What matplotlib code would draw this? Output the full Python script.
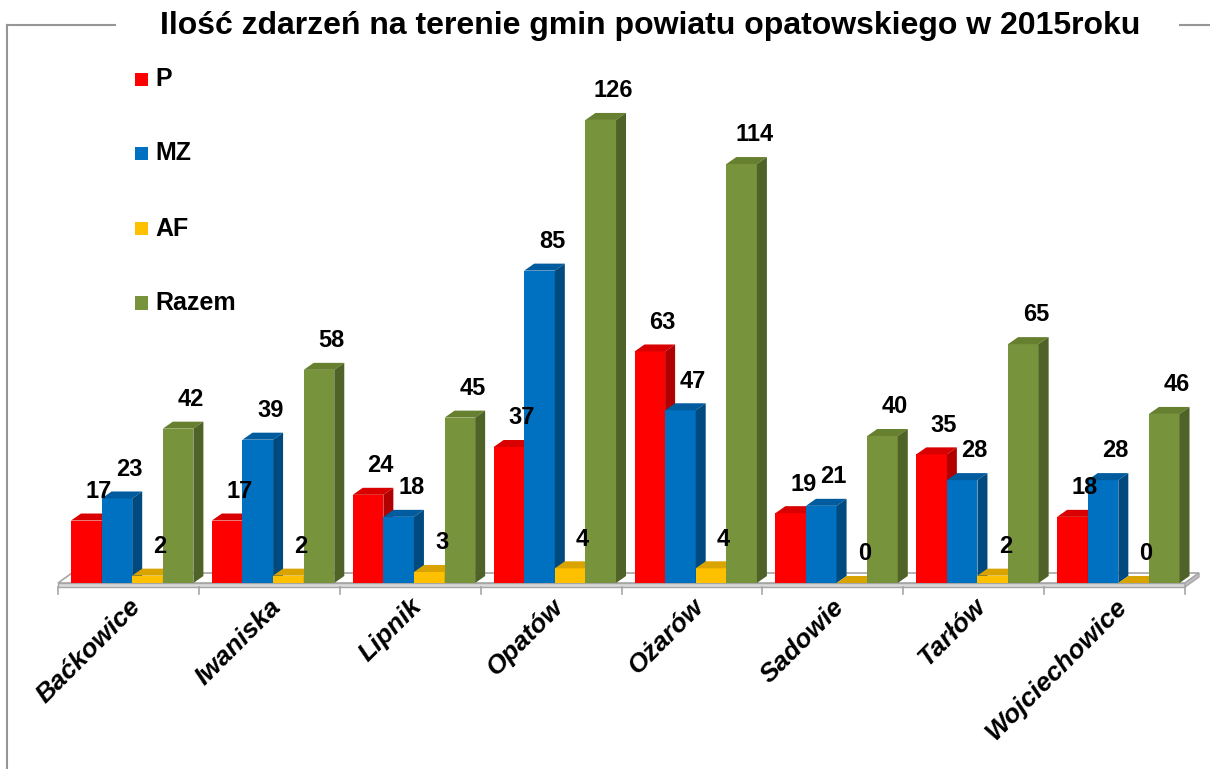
import matplotlib
matplotlib.use("Agg")
import matplotlib.pyplot as plt
from matplotlib.patches import Polygon, Rectangle
from matplotlib.lines import Line2D

# ---- data ----
title = "Ilość zdarzeń na terenie gmin powiatu opatowskiego w 2015roku"
categories = ["Baćkowice", "Iwaniska", "Lipnik", "Opatów", "Ożarów",
              "Sadowie", "Tarłów", "Wojciechowice"]
series_names = ["P", "MZ", "AF", "Razem"]
P = [17, 17, 24, 37, 63, 19, 35, 18]
MZ = [23, 39, 18, 85, 47, 21, 28, 28]
AF = [2, 2, 3, 4, 4, 0, 2, 0]
Razem = [42, 58, 45, 126, 114, 40, 65, 46]
series = [P, MZ, AF, Razem]

front_cols = ["#FF0000", "#0070C0", "#FFC000", "#77933C"]
top_cols = ["#D80000", "#005C9E", "#D9A300", "#668030"]
side_cols = ["#B00000", "#004A80", "#BF8F00", "#4F6228"]

W, H = 1210, 769
fig = plt.figure(figsize=(W / 100, H / 100), dpi=100)
fig.patch.set_facecolor("white")

# axes placement in pixel terms
x_left, x_right = 58, 1185
y_base, y_top = 583, 60
px_per_unit = 3.675
ax = fig.add_axes([x_left / W, (H - y_base) / H, (x_right - x_left) / W,
                   (y_base - y_top) / H])
ncat = len(categories)
ymax = (y_base - y_top) / px_per_unit
ax.set_xlim(0, ncat)
ax.set_ylim(0, ymax)
ax.axis("off")

px_per_cat = (x_right - x_left) / ncat
def dxp(p):
    return p / px_per_cat
def dyp(p):
    return p / px_per_unit

# floor plate
fdx, fdy, fth = dxp(14), dyp(10), dyp(4)
floor_top = Polygon([(0, 0), (ncat, 0), (ncat + fdx, fdy), (fdx, fdy)],
                    closed=True, facecolor="white", edgecolor="#A6A6A6",
                    lw=1.2, clip_on=False, zorder=1)
ax.add_patch(floor_top)
floor_front = Polygon([(0, 0), (ncat, 0), (ncat, -fth), (0, -fth)], closed=True,
                      facecolor="#D9D9D9", edgecolor="#A6A6A6", lw=1.0,
                      clip_on=False, zorder=1)
ax.add_patch(floor_front)
floor_side = Polygon([(ncat, 0), (ncat + fdx, fdy), (ncat + fdx, fdy - fth),
                      (ncat, -fth)], closed=True, facecolor="#BFBFBF",
                     edgecolor="#A6A6A6", lw=1.0, clip_on=False, zorder=1)
ax.add_patch(floor_side)
for i in range(ncat + 1):
    ax.add_line(Line2D([i, i], [-fth, -fth - dyp(7)], color="#A6A6A6", lw=1.2,
                       clip_on=False, zorder=1))

# bars
bw = 30.6 / px_per_cat
off0 = 13 / px_per_cat
bdx, bdy = dxp(10), dyp(7)
for s, (vals, fc, tc, sc) in enumerate(zip(series, front_cols, top_cols, side_cols)):
    xs = [i + off0 + s * bw for i in range(ncat)]
    ax.bar(xs, vals, width=bw, align="edge", color=fc, edgecolor="none",
           zorder=2 + s)
    for x, v in zip(xs, vals):
        ax.add_patch(Polygon([(x, v), (x + bw, v), (x + bw + bdx, v + bdy),
                              (x + bdx, v + bdy)], closed=True, facecolor=tc,
                             edgecolor="none", zorder=2 + s, clip_on=False))
        ax.add_patch(Polygon([(x + bw, 0), (x + bw, v), (x + bw + bdx, v + bdy),
                              (x + bw + bdx, bdy)], closed=True, facecolor=sc,
                             edgecolor="none", zorder=2 + s, clip_on=False))
        ax.annotate(str(v), (x + bw / 2, v), xytext=(9, 21),
                    textcoords="offset points", ha="center", va="center",
                    fontsize=17, fontweight="bold", family="Liberation Sans",
                    color="black", zorder=10, annotation_clip=False)

# category labels
for i, c in enumerate(categories):
    ax.text(i + 0.5 + dxp(8), -dyp(20), c, rotation=45, rotation_mode="anchor",
            ha="right", va="center", fontsize=19, fontweight="bold",
            fontstyle="italic", family="Liberation Sans", clip_on=False)

# legend (manual, Excel-like vertical spacing)
leg_y = [79.5, 153.5, 228.5, 303]
for name, col, yy in zip(series_names, front_cols, leg_y):
    fig.patches.append(Rectangle((135 / W, 1 - (yy + 6.5) / H), 13 / W, 13 / H,
                                 transform=fig.transFigure, facecolor=col,
                                 edgecolor="none"))
    fig.text(155 / W, 1 - yy / H, name, ha="left", va="center", fontsize=18,
             fontweight="bold", family="Liberation Sans")

# title
fig.text(650 / W, 1 - 26 / H, title, ha="center", va="center", fontsize=23,
         fontweight="bold", family="Liberation Sans")

# chart frame (partial, as in reference)
fc_ = "#969696"
fig.add_artist(Line2D([7 / W, 7 / W], [1 - 25 / H, 0], color=fc_, lw=1.5,
                      transform=fig.transFigure))
fig.add_artist(Line2D([7 / W, 115 / W], [1 - 25 / H, 1 - 25 / H], color=fc_,
                      lw=1.5, transform=fig.transFigure))
fig.add_artist(Line2D([1180 / W, 1 - 0.5 / W], [1 - 25 / H, 1 - 25 / H],
                      color=fc_, lw=1.5, transform=fig.transFigure))

fig.savefig("out.png", dpi=100, facecolor="white")
